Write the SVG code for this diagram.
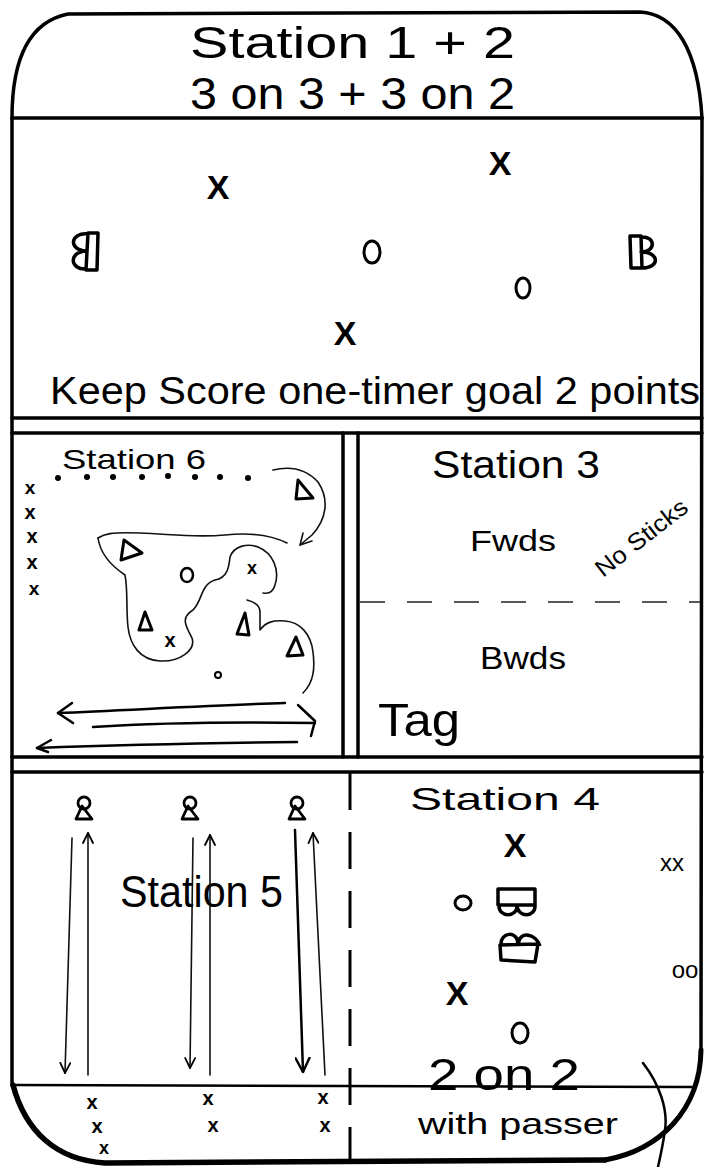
<svg xmlns="http://www.w3.org/2000/svg" width="713" height="1167" viewBox="0 0 713 1167">
<defs>
<style>
.w{fill:none;stroke:#000;stroke-width:3.5;stroke-linecap:round;stroke-linejoin:round}
.ln{fill:none;stroke:#000;stroke-width:2.5;stroke-linecap:round;stroke-linejoin:round}
.th{fill:none;stroke:#111;stroke-width:1.6;stroke-linecap:round;stroke-linejoin:round}
.t{font-family:"Liberation Sans","DejaVu Sans",sans-serif;fill:#000}
.m{font-family:"Liberation Sans","DejaVu Sans",sans-serif;fill:#000;text-anchor:middle;dominant-baseline:central}
.b{font-weight:bold}
.tri{fill:none;stroke:#000;stroke-width:3;stroke-linejoin:round}
.net{fill:none;stroke:#000;stroke-width:3.5;stroke-linejoin:round}
</style>
<marker id="ah" viewBox="0 0 12 12" refX="11" refY="6" markerWidth="12" markerHeight="12" markerUnits="userSpaceOnUse" orient="auto">
<path d="M1,1 L11,6 L1,11" fill="none" stroke="#000" stroke-width="1.8" stroke-linecap="round"/>
</marker>
<marker id="ah2" viewBox="0 0 16 16" refX="15" refY="8" markerWidth="16" markerHeight="16" markerUnits="userSpaceOnUse" orient="auto">
<path d="M1,1 L15,8 L1,15" fill="none" stroke="#000" stroke-width="2.4" stroke-linecap="round"/>
</marker>
<g id="pylon"><circle cx="0" cy="-7" r="6" fill="none" stroke="#000" stroke-width="2.8"/><path d="M-2,-4 L-8,9 L8,9 Z" fill="none" stroke="#000" stroke-width="2.8" stroke-linejoin="round"/></g>
</defs>
<rect width="713" height="1167" fill="#fff"/>

<g id="rink">
<path class="w" d="M12,118 C12,60 28,22 68,14 L640,12 C676,14 698,50 702,118"/>
<path class="w" d="M12,118 L12,1085"/>
<path class="w" d="M702,118 L701,1050"/>
<path d="M13,1085 C25,1130 55,1160 105,1163 L605,1160" fill="none" stroke="#000" stroke-width="5.5" stroke-linecap="round"/>
<path d="M701,1050 C700,1110 660,1150 605,1160" fill="none" stroke="#000" stroke-width="5" stroke-linecap="round"/>
<path class="w" d="M12,118 L702,118"/>
<path class="w" d="M12,418 L702,418"/>
<path class="w" d="M12,433 L702,433"/>
<path class="w" d="M12,757 L702,757"/>
<path class="w" d="M12,772 L702,772"/>
<path class="w" d="M343,433 L343,757"/>
<path class="w" d="M358,433 L358,757"/>
<path class="ln" d="M12,1085 L692,1087"/>
<path d="M350,773 L350,1160" fill="none" stroke="#000" stroke-width="3" stroke-dasharray="37,22"/>
<path d="M360,602 L700,602" fill="none" stroke="#222" stroke-width="1.5" stroke-dasharray="25,22"/>
<path class="ln" d="M643,1063 C660,1085 668,1110 665,1130 C663,1145 660,1158 658,1167"/>
</g>

<g id="station12">
<text class="t" x="190" y="58" font-size="44" textLength="325" lengthAdjust="spacingAndGlyphs">Station 1 + 2</text>
<text class="t" x="190" y="109" font-size="44" textLength="325" lengthAdjust="spacingAndGlyphs">3 on 3 + 3 on 2</text>
<text class="m b" x="218" y="187" font-size="34">X</text>
<text class="m b" x="500" y="163" font-size="34">X</text>
<text class="m b" x="345" y="333" font-size="34">X</text>
<ellipse cx="372" cy="252" rx="8" ry="11" fill="none" stroke="#000" stroke-width="3"/>
<ellipse cx="523" cy="288" rx="7" ry="10" fill="none" stroke="#000" stroke-width="3"/>
<path class="net" d="M88,233 L98,233 L97,270 L86,270 Z M88,234 C70,232 68,250 86,251 C68,252 70,270 86,269"/>
<path class="net" d="M630,236 L641,236 L642,268 L631,268 Z M641,237 C656,236 656,252 641,252 C660,252 660,268 642,268"/>
<text class="t" x="50" y="404" font-size="38" textLength="650" lengthAdjust="spacingAndGlyphs">Keep Score  one-timer goal 2 points</text>
</g>

<g id="station6">
<text class="t" x="62" y="469" font-size="28" textLength="144" lengthAdjust="spacingAndGlyphs">Station 6</text>
<g fill="#000">
<circle cx="58" cy="478" r="3"/><circle cx="87" cy="477" r="3"/><circle cx="113" cy="477" r="3"/><circle cx="142" cy="477" r="3"/><circle cx="168" cy="476" r="3"/><circle cx="195" cy="477" r="3"/><circle cx="220" cy="477" r="3"/><circle cx="248" cy="478" r="3"/>
</g>
<text class="m b" x="30" y="487" font-size="19">x</text>
<text class="m b" x="30" y="512" font-size="20">x</text>
<text class="m b" x="32" y="536" font-size="20">x</text>
<text class="m b" x="32" y="562" font-size="20">x</text>
<text class="m b" x="34" y="588" font-size="19">x</text>
<path class="tri" d="M298,480 L313,498 L296,499 Z"/>
<path class="tri" d="M124,540 L142,553 L121,560 Z"/>
<path class="tri" d="M145,612 L152,630 L139,630 Z"/>
<path class="tri" d="M245,613 L249,635 L237,634 Z"/>
<path class="tri" d="M296,637 L303,655 L287,656 Z"/>
<ellipse cx="187" cy="575" rx="6" ry="7" fill="none" stroke="#000" stroke-width="2.5"/>
<text class="m b" x="252" y="568" font-size="18">x</text>
<text class="m b" x="170" y="640" font-size="20">x</text>
<circle cx="218" cy="675" r="3" fill="none" stroke="#000" stroke-width="2"/>
<path class="th" d="M98,538 C104,534 110,532 140,533 C170,534 193,538 225,535 C255,532 275,537 287,543"/>
<path class="th" d="M98,538 C100,552 110,565 125,575 C128,590 126,610 128,627 C130,645 140,660 160,661 C180,662 196,650 192,638 C186,626 180,618 193,610 C203,600 200,585 215,580 C228,578 229,566 230,557 C234,546 247,543 258,547 C273,553 280,570 275,585 C273,592 268,594 263,593"/>
<path class="th" d="M247,600 C255,602 260,606 260,612 L260,630 C266,622 273,620 285,621 C300,622 311,634 313,652 C315,668 314,682 303,693"/>
<path class="th" d="M273,470 C290,466 305,468 318,482 C330,500 326,520 312,535 L300,545"/>
<path class="th" d="M300,545 L303,533 M300,545 L312,541"/>
<path class="ln" d="M285,703 C220,705 130,710 58,713"/>
<path class="ln" d="M58,713 L72,703 M58,713 L73,723"/>
<path class="ln" d="M93,727 C170,722 250,722 315,723"/>
<path class="ln" d="M298,705 L315,721 L311,736"/>
<path class="ln" d="M297,742 C220,743 120,745 37,748"/>
<path class="ln" d="M37,748 L51,740 M37,748 L48,752"/>
</g>

<g id="station3">
<text class="t" x="432" y="478" font-size="38" textLength="168" lengthAdjust="spacingAndGlyphs">Station 3</text>
<text class="t" x="470" y="551" font-size="30" textLength="86" lengthAdjust="spacingAndGlyphs">Fwds</text>
<text class="t" x="603" y="578" font-size="24" transform="rotate(-38 603 578)" textLength="110" lengthAdjust="spacingAndGlyphs">No Sticks</text>
<text class="t" x="480" y="669" font-size="32" textLength="86" lengthAdjust="spacingAndGlyphs">Bwds</text>
<text class="t" x="378" y="736" font-size="46" textLength="82" lengthAdjust="spacingAndGlyphs">Tag</text>
</g>

<g id="station5">
<use href="#pylon" x="84" y="810"/>
<use href="#pylon" x="190" y="810"/>
<use href="#pylon" x="297" y="810"/>
<text class="t" x="120" y="907" font-size="44" textLength="163" lengthAdjust="spacingAndGlyphs">Station 5</text>
<text class="m b" x="92" y="1102" font-size="20">x</text>
<text class="m b" x="97" y="1126" font-size="20">x</text>
<text class="m b" x="104" y="1148" font-size="18">x</text>
<text class="m b" x="208" y="1098" font-size="20">x</text>
<text class="m b" x="213" y="1125" font-size="20">x</text>
<text class="m b" x="323" y="1097" font-size="20">x</text>
<text class="m b" x="325" y="1125" font-size="20">x</text>
</g>

<g id="station4">
<text class="t" x="410" y="810" font-size="32" textLength="190" lengthAdjust="spacingAndGlyphs">Station  4</text>
<text class="m b" x="515" y="845" font-size="34">X</text>
<text class="m b" x="457" y="993" font-size="34">X</text>
<ellipse cx="463" cy="903" rx="8" ry="7" fill="none" stroke="#000" stroke-width="3"/>
<ellipse cx="520" cy="1033" rx="8" ry="10" fill="none" stroke="#000" stroke-width="3"/>
<path class="net" d="M498,889 L535,889 L535,905 L498,905 Z M499,905 C498,918 518,918 517,905 C517,918 536,918 535,905"/>
<path class="net" d="M500,945 L538,944 L535,962 L501,960 Z M501,945 C500,932 518,930 518,944 C520,930 536,934 540,946"/>
<text class="m" x="672" y="862" font-size="24">xx</text>
<text class="m" x="685" y="969" font-size="24">oo</text>
<text class="t" x="428" y="1090" font-size="44" textLength="152" lengthAdjust="spacingAndGlyphs">2 on 2</text>
<text class="t" x="418" y="1134" font-size="30" textLength="200" lengthAdjust="spacingAndGlyphs">with passer</text>
</g>

<g id="connectors">
<path class="th" d="M72,838 L65,1073" marker-end="url(#ah)"/>
<path class="th" d="M88,1075 L88,833" marker-end="url(#ah)"/>
<path class="th" d="M193,838 L190,1068" marker-end="url(#ah)"/>
<path class="th" d="M210,1075 L210,835" marker-end="url(#ah)"/>
<path class="ln" d="M295,830 L303,1072" marker-end="url(#ah2)"/>
<path class="th" d="M325,1075 L313,833" marker-end="url(#ah)"/>
</g>
</svg>
